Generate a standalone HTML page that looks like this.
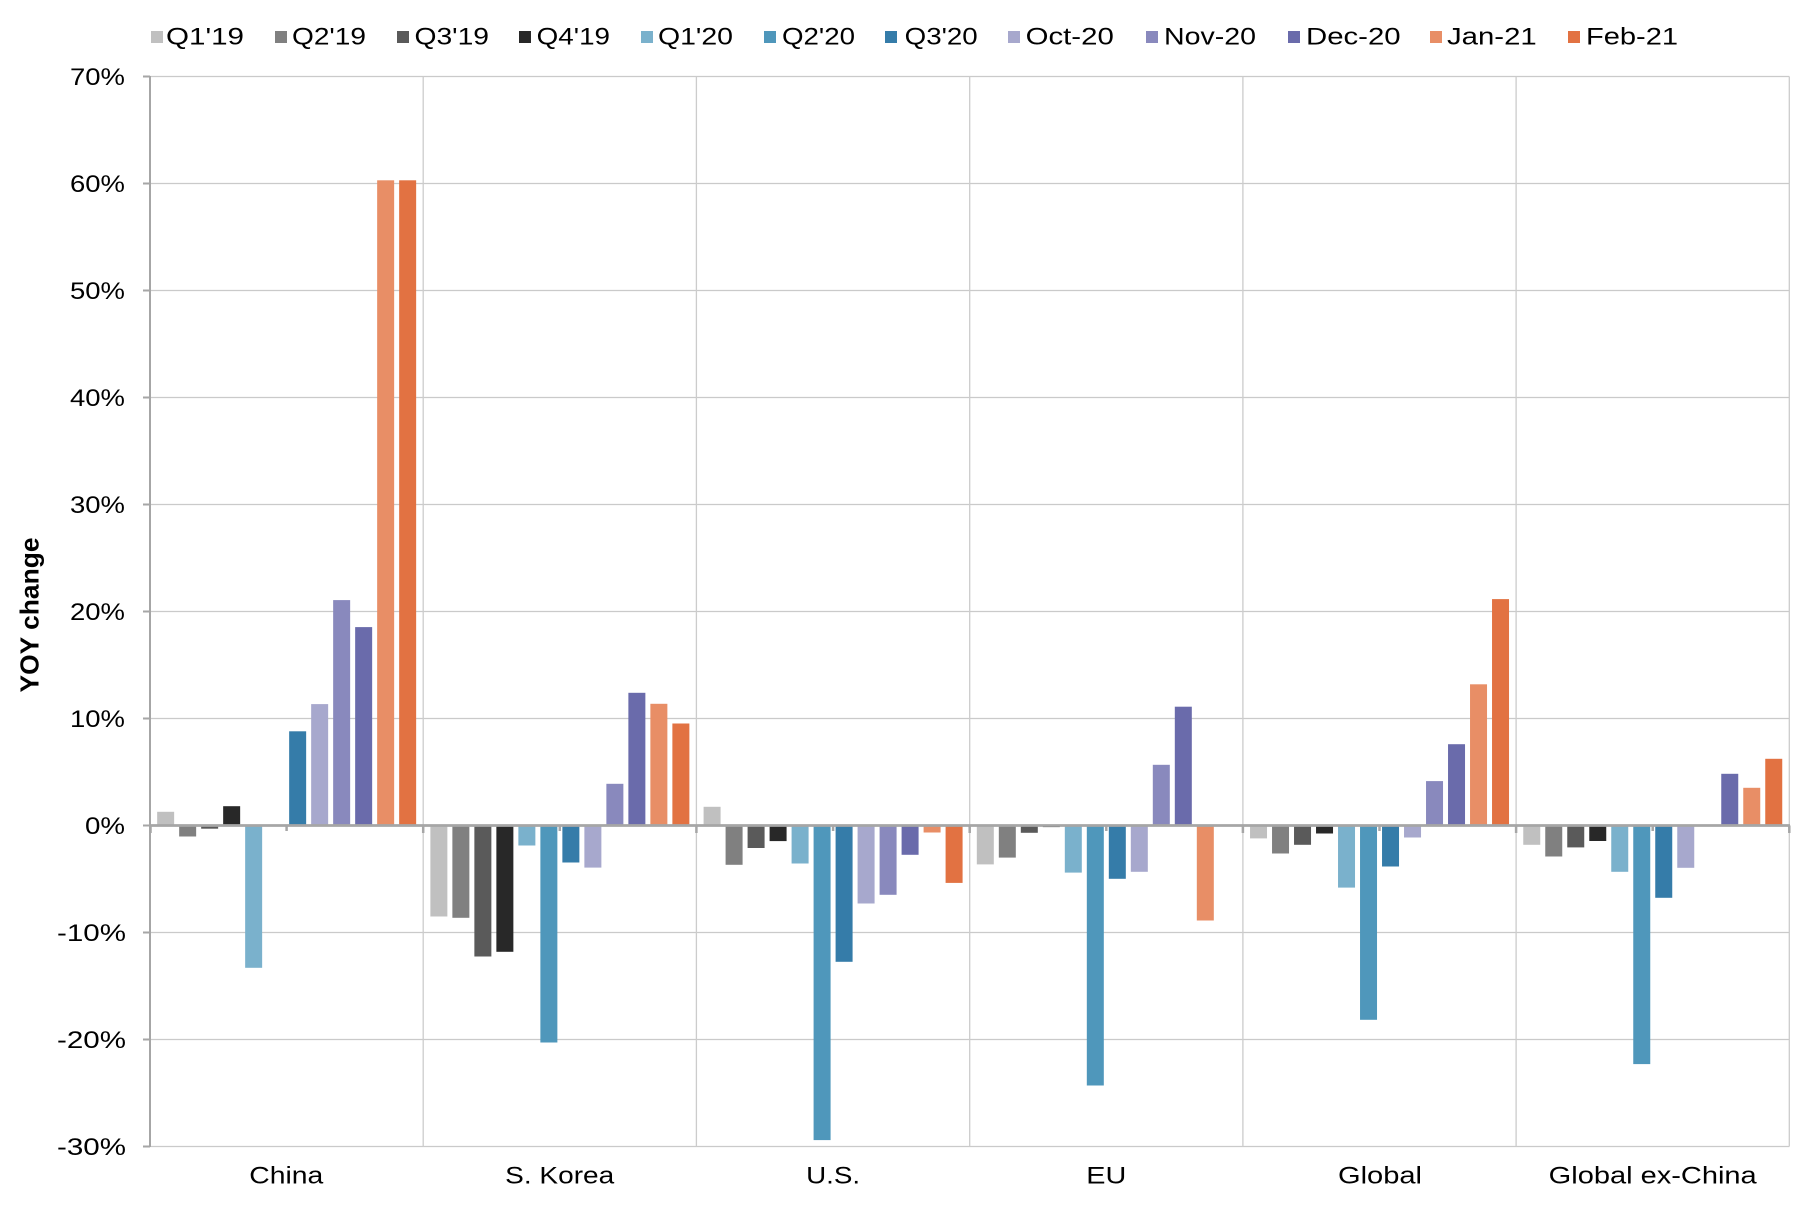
<!DOCTYPE html>
<html>
<head>
<meta charset="utf-8">
<style>
  html, body { margin:0; padding:0; background:#ffffff; }
  svg { display:block; }
  text { font-family: "Liberation Sans", sans-serif; fill:#000; }
</style>
</head>
<body>
<svg width="1816" height="1214" viewBox="0 0 1816 1214" xmlns="http://www.w3.org/2000/svg">
  <rect x="0" y="0" width="1816" height="1214" fill="#ffffff"/>

  <!-- Legend -->
  <g font-size="24">
    <rect x="151" y="31" width="12" height="12" fill="#c0c0c0"/><text x="166" y="44.3" textLength="78" lengthAdjust="spacingAndGlyphs">Q1'19</text>
    <rect x="275" y="31" width="12" height="12" fill="#808080"/><text x="292" y="44.3" textLength="74" lengthAdjust="spacingAndGlyphs">Q2'19</text>
    <rect x="397" y="31" width="12" height="12" fill="#5a5a5a"/><text x="414.5" y="44.3" textLength="74.5" lengthAdjust="spacingAndGlyphs">Q3'19</text>
    <rect x="519" y="31" width="12" height="12" fill="#282828"/><text x="536.7" y="44.3" textLength="73.3" lengthAdjust="spacingAndGlyphs">Q4'19</text>
    <rect x="641" y="31" width="12" height="12" fill="#7ab1cc"/><text x="658" y="44.3" textLength="75" lengthAdjust="spacingAndGlyphs">Q1'20</text>
    <rect x="764" y="31" width="12" height="12" fill="#4f97bb"/><text x="782" y="44.3" textLength="73" lengthAdjust="spacingAndGlyphs">Q2'20</text>
    <rect x="885" y="31" width="12" height="12" fill="#357ca9"/><text x="904.7" y="44.3" textLength="73" lengthAdjust="spacingAndGlyphs">Q3'20</text>
    <rect x="1008" y="31" width="12" height="12" fill="#a7a8cd"/><text x="1025.6" y="44.3" textLength="88.2" lengthAdjust="spacingAndGlyphs">Oct-20</text>
    <rect x="1146" y="31" width="12" height="12" fill="#8989bd"/><text x="1164" y="44.3" textLength="92" lengthAdjust="spacingAndGlyphs">Nov-20</text>
    <rect x="1288" y="31" width="12" height="12" fill="#6a6bab"/><text x="1306" y="44.3" textLength="94.6" lengthAdjust="spacingAndGlyphs">Dec-20</text>
    <rect x="1430" y="31" width="12" height="12" fill="#e88e66"/><text x="1447" y="44.3" textLength="89.7" lengthAdjust="spacingAndGlyphs">Jan-21</text>
    <rect x="1568" y="31" width="12" height="12" fill="#e27242"/><text x="1586" y="44.3" textLength="92" lengthAdjust="spacingAndGlyphs">Feb-21</text>
  </g>

  <!-- Horizontal gridlines -->
  <g stroke="#cacaca" stroke-width="1.3">
    <line x1="150" y1="76.5" x2="1789.3" y2="76.5"/>
    <line x1="150" y1="183.5" x2="1789.3" y2="183.5"/>
    <line x1="150" y1="290.5" x2="1789.3" y2="290.5"/>
    <line x1="150" y1="397.5" x2="1789.3" y2="397.5"/>
    <line x1="150" y1="504.5" x2="1789.3" y2="504.5"/>
    <line x1="150" y1="611.5" x2="1789.3" y2="611.5"/>
    <line x1="150" y1="718.5" x2="1789.3" y2="718.5"/>
    <line x1="150" y1="932.5" x2="1789.3" y2="932.5"/>
    <line x1="150" y1="1039.5" x2="1789.3" y2="1039.5"/>
    <line x1="150" y1="1146.5" x2="1789.3" y2="1146.5"/>
  </g>
  <!-- Vertical gridlines -->
  <g stroke="#cccccc" stroke-width="1.3">
    <line x1="423.2" y1="76.5" x2="423.2" y2="1146.5"/>
    <line x1="696.4" y1="76.5" x2="696.4" y2="1146.5"/>
    <line x1="969.7" y1="76.5" x2="969.7" y2="1146.5"/>
    <line x1="1242.9" y1="76.5" x2="1242.9" y2="1146.5"/>
    <line x1="1516.1" y1="76.5" x2="1516.1" y2="1146.5"/>
    <line x1="1789.3" y1="76.5" x2="1789.3" y2="1146.5"/>
  </g>

  <!-- Bars -->
  <g>
    <!-- China -->
    <rect x="157.15" y="811.8" width="17" height="13.7" fill="#c0c0c0"/>
    <rect x="179.15" y="825.5" width="17" height="11.0" fill="#808080"/>
    <rect x="201.15" y="825.5" width="17" height="3.2" fill="#5a5a5a"/>
    <rect x="223.15" y="806.2" width="17" height="19.3" fill="#282828"/>
    <rect x="245.15" y="825.5" width="17" height="142.3" fill="#7ab1cc"/>
    <rect x="289.15" y="731.3" width="17" height="94.2" fill="#357ca9"/>
    <rect x="311.15" y="704.1" width="17" height="121.4" fill="#a7a8cd"/>
    <rect x="333.15" y="600.1" width="17" height="225.4" fill="#8989bd"/>
    <rect x="355.15" y="627.1" width="17" height="198.4" fill="#6a6bab"/>
    <rect x="377.15" y="180.3" width="17" height="645.2" fill="#e88e66"/>
    <rect x="399.15" y="180.3" width="17" height="645.2" fill="#e27242"/>
    <!-- S. Korea -->
    <rect x="430.37" y="825.5" width="17" height="91.0" fill="#c0c0c0"/>
    <rect x="452.37" y="825.5" width="17" height="92.3" fill="#808080"/>
    <rect x="474.37" y="825.5" width="17" height="131.0" fill="#5a5a5a"/>
    <rect x="496.37" y="825.5" width="17" height="126.3" fill="#282828"/>
    <rect x="518.37" y="825.5" width="17" height="20.0" fill="#7ab1cc"/>
    <rect x="540.37" y="825.5" width="17" height="217.0" fill="#4f97bb"/>
    <rect x="562.37" y="825.5" width="17" height="37.0" fill="#357ca9"/>
    <rect x="584.37" y="825.5" width="17" height="42.1" fill="#a7a8cd"/>
    <rect x="606.37" y="783.8" width="17" height="41.7" fill="#8989bd"/>
    <rect x="628.37" y="692.8" width="17" height="132.7" fill="#6a6bab"/>
    <rect x="650.37" y="703.8" width="17" height="121.7" fill="#e88e66"/>
    <rect x="672.37" y="723.5" width="17" height="102.0" fill="#e27242"/>
    <!-- U.S. -->
    <rect x="703.59" y="806.8" width="17" height="18.7" fill="#c0c0c0"/>
    <rect x="725.59" y="825.5" width="17" height="39.3" fill="#808080"/>
    <rect x="747.59" y="825.5" width="17" height="22.5" fill="#5a5a5a"/>
    <rect x="769.59" y="825.5" width="17" height="15.6" fill="#282828"/>
    <rect x="791.59" y="825.5" width="17" height="38.0" fill="#7ab1cc"/>
    <rect x="813.59" y="825.5" width="17" height="314.6" fill="#4f97bb"/>
    <rect x="835.59" y="825.5" width="17" height="136.3" fill="#357ca9"/>
    <rect x="857.59" y="825.5" width="17" height="78.0" fill="#a7a8cd"/>
    <rect x="879.59" y="825.5" width="17" height="69.3" fill="#8989bd"/>
    <rect x="901.59" y="825.5" width="17" height="29.3" fill="#6a6bab"/>
    <rect x="923.59" y="825.5" width="17" height="7.0" fill="#e88e66"/>
    <rect x="945.59" y="825.5" width="17" height="57.4" fill="#e27242"/>
    <!-- EU -->
    <rect x="976.81" y="825.5" width="17" height="38.9" fill="#c0c0c0"/>
    <rect x="998.81" y="825.5" width="17" height="32.1" fill="#808080"/>
    <rect x="1020.81" y="825.5" width="17" height="7.3" fill="#5a5a5a"/>
    <rect x="1042.81" y="825.5" width="17" height="1.6" fill="#282828"/>
    <rect x="1064.81" y="825.5" width="17" height="47.1" fill="#7ab1cc"/>
    <rect x="1086.81" y="825.5" width="17" height="260.0" fill="#4f97bb"/>
    <rect x="1108.81" y="825.5" width="17" height="53.3" fill="#357ca9"/>
    <rect x="1130.81" y="825.5" width="17" height="46.3" fill="#a7a8cd"/>
    <rect x="1152.81" y="764.8" width="17" height="60.7" fill="#8989bd"/>
    <rect x="1174.81" y="706.7" width="17" height="118.8" fill="#6a6bab"/>
    <rect x="1196.81" y="825.5" width="17" height="95.0" fill="#e88e66"/>
    <!-- Global -->
    <rect x="1250.03" y="825.5" width="17" height="12.9" fill="#c0c0c0"/>
    <rect x="1272.03" y="825.5" width="17" height="28.0" fill="#808080"/>
    <rect x="1294.03" y="825.5" width="17" height="19.3" fill="#5a5a5a"/>
    <rect x="1316.03" y="825.5" width="17" height="8.0" fill="#282828"/>
    <rect x="1338.03" y="825.5" width="17" height="62.1" fill="#7ab1cc"/>
    <rect x="1360.03" y="825.5" width="17" height="194.3" fill="#4f97bb"/>
    <rect x="1382.03" y="825.5" width="17" height="41.0" fill="#357ca9"/>
    <rect x="1404.03" y="825.5" width="17" height="12.0" fill="#a7a8cd"/>
    <rect x="1426.03" y="781.1" width="17" height="44.4" fill="#8989bd"/>
    <rect x="1448.03" y="744.2" width="17" height="81.3" fill="#6a6bab"/>
    <rect x="1470.03" y="684.3" width="17" height="141.2" fill="#e88e66"/>
    <rect x="1492.03" y="599.1" width="17" height="226.4" fill="#e27242"/>
    <!-- Global ex-China -->
    <rect x="1523.25" y="825.5" width="17" height="19.3" fill="#c0c0c0"/>
    <rect x="1545.25" y="825.5" width="17" height="31.0" fill="#808080"/>
    <rect x="1567.25" y="825.5" width="17" height="21.9" fill="#5a5a5a"/>
    <rect x="1589.25" y="825.5" width="17" height="15.5" fill="#282828"/>
    <rect x="1611.25" y="825.5" width="17" height="46.3" fill="#7ab1cc"/>
    <rect x="1633.25" y="825.5" width="17" height="238.6" fill="#4f97bb"/>
    <rect x="1655.25" y="825.5" width="17" height="72.3" fill="#357ca9"/>
    <rect x="1677.25" y="825.5" width="17" height="42.3" fill="#a7a8cd"/>
    <rect x="1721.25" y="773.8" width="17" height="51.7" fill="#6a6bab"/>
    <rect x="1743.25" y="787.8" width="17" height="37.7" fill="#e88e66"/>
    <rect x="1765.25" y="758.8" width="17" height="66.7" fill="#e27242"/>
  </g>

  <!-- Zero line and ticks -->
  <line x1="149" y1="825.5" x2="1790" y2="825.5" stroke="#a6a6a6" stroke-width="2.8"/>
  <g stroke="#a6a6a6" stroke-width="2.5">
    <line x1="150.5" y1="825.5" x2="150.5" y2="833"/>
    <line x1="423.2" y1="825.5" x2="423.2" y2="833"/>
    <line x1="696.4" y1="825.5" x2="696.4" y2="833"/>
    <line x1="969.7" y1="825.5" x2="969.7" y2="833"/>
    <line x1="1242.9" y1="825.5" x2="1242.9" y2="833"/>
    <line x1="1516.1" y1="825.5" x2="1516.1" y2="833"/>
    <line x1="1789.3" y1="825.5" x2="1789.3" y2="833"/>
    <line x1="286.6" y1="825.5" x2="286.6" y2="831"/>
    <line x1="559.8" y1="825.5" x2="559.8" y2="831"/>
    <line x1="833.1" y1="825.5" x2="833.1" y2="831"/>
    <line x1="1106.3" y1="825.5" x2="1106.3" y2="831"/>
    <line x1="1379.5" y1="825.5" x2="1379.5" y2="831"/>
    <line x1="1652.7" y1="825.5" x2="1652.7" y2="831"/>
  </g>

  <!-- Left axis -->
  <line x1="150" y1="76" x2="150" y2="1147" stroke="#a6a6a6" stroke-width="2"/>
  <g stroke="#a6a6a6" stroke-width="2">
    <line x1="143" y1="76.5" x2="150" y2="76.5"/>
    <line x1="143" y1="183.5" x2="150" y2="183.5"/>
    <line x1="143" y1="290.5" x2="150" y2="290.5"/>
    <line x1="143" y1="397.5" x2="150" y2="397.5"/>
    <line x1="143" y1="504.5" x2="150" y2="504.5"/>
    <line x1="143" y1="611.5" x2="150" y2="611.5"/>
    <line x1="143" y1="718.5" x2="150" y2="718.5"/>
    <line x1="143" y1="825.5" x2="150" y2="825.5"/>
    <line x1="143" y1="932.5" x2="150" y2="932.5"/>
    <line x1="143" y1="1039.5" x2="150" y2="1039.5"/>
    <line x1="143" y1="1146.5" x2="150" y2="1146.5"/>
  </g>

  <!-- Y tick labels -->
  <g font-size="24" text-anchor="end">
    <text x="125" y="85" textLength="55" lengthAdjust="spacingAndGlyphs">70%</text>
    <text x="125" y="192" textLength="55" lengthAdjust="spacingAndGlyphs">60%</text>
    <text x="125" y="299" textLength="55" lengthAdjust="spacingAndGlyphs">50%</text>
    <text x="125" y="406" textLength="55" lengthAdjust="spacingAndGlyphs">40%</text>
    <text x="125" y="513" textLength="55" lengthAdjust="spacingAndGlyphs">30%</text>
    <text x="125" y="620" textLength="55" lengthAdjust="spacingAndGlyphs">20%</text>
    <text x="125" y="727" textLength="55" lengthAdjust="spacingAndGlyphs">10%</text>
    <text x="125" y="834" textLength="40" lengthAdjust="spacingAndGlyphs">0%</text>
    <text x="126" y="941" textLength="69" lengthAdjust="spacingAndGlyphs">-10%</text>
    <text x="126" y="1048" textLength="69" lengthAdjust="spacingAndGlyphs">-20%</text>
    <text x="126" y="1155" textLength="69" lengthAdjust="spacingAndGlyphs">-30%</text>
  </g>

  <!-- Y axis title -->
  <text x="0" y="0" font-size="26" font-weight="bold" text-anchor="middle" textLength="155" lengthAdjust="spacingAndGlyphs" transform="translate(38.3,615) rotate(-90)">YOY change</text>

  <!-- X category labels -->
  <g font-size="24" text-anchor="middle">
    <text x="286.3" y="1183.3" textLength="74" lengthAdjust="spacingAndGlyphs">China</text>
    <text x="559.7" y="1183.3" textLength="109" lengthAdjust="spacingAndGlyphs">S. Korea</text>
    <text x="833.1" y="1183.3" textLength="54" lengthAdjust="spacingAndGlyphs">U.S.</text>
    <text x="1106.3" y="1183.3" textLength="40" lengthAdjust="spacingAndGlyphs">EU</text>
    <text x="1380" y="1183.3" textLength="84" lengthAdjust="spacingAndGlyphs">Global</text>
    <text x="1652.7" y="1183.3" textLength="208" lengthAdjust="spacingAndGlyphs">Global ex-China</text>
  </g>
</svg>
</body>
</html>
